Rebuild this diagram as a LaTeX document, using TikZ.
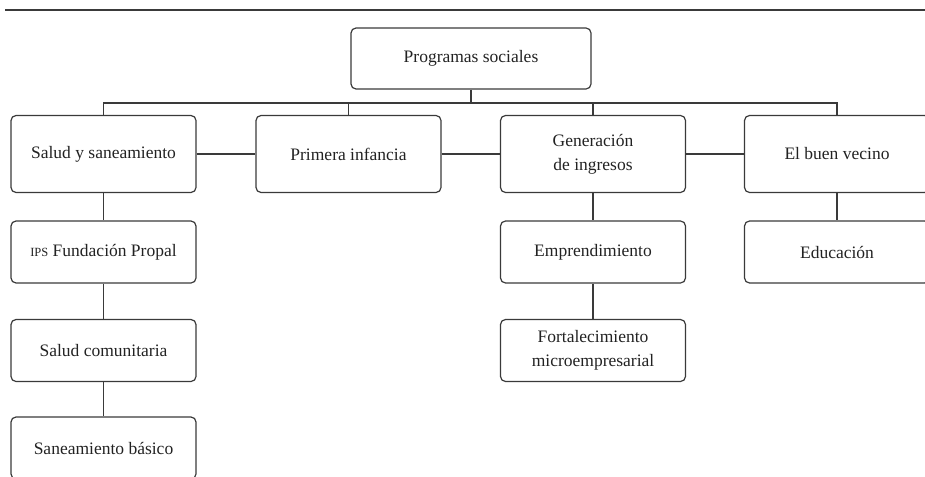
\documentclass[tikz,border=0pt]{standalone}
\usepackage{fontspec}
\setmainfont{Liberation Serif}
\definecolor{ln}{HTML}{3A3A3A}
\definecolor{tx}{HTML}{222222}
\begin{document}
\begin{tikzpicture}[x=1pt,y=-1pt,
  box/.style={draw=ln, line width=1.2pt, rounded corners=5pt, minimum width=185pt,
    minimum height=77pt, align=center, text=tx, inner sep=0pt,
    font=\fontsize{17.5}{24}\selectfont},
  sub/.style={box, minimum height=62pt},
  rootbox/.style={box, minimum width=240pt, minimum height=61pt},
  link/.style={draw=ln, line width=1.2pt}]
\useasboundingbox (0,0) rectangle (925,476);
\clip (0,0) rectangle (925,476);
\coordinate (tl) at (5,10);
\coordinate (tr) at (925,10);
\draw[link] (tl) -- (tr);
\node[rootbox] (root) at (471,58.5) {Programas sociales};
\node[box] (salud) at (103.5,154) {Salud y saneamiento};
\node[box] (prim) at (348.5,154) {Primera infancia};
\node[box] (gen) at (593,154) {Generación\\de ingresos};
\node[box] (buen) at (837,154) {El buen vecino};
\node[sub] (ips) at (103.5,252) {{\fontsize{12.5}{14}\selectfont IPS} Fundación Propal};
\node[sub] (com) at (103.5,350.5) {Salud comunitaria};
\node[sub] (san) at (103.5,448) {Saneamiento básico};
\node[sub] (empr) at (593,252) {Emprendimiento};
\node[sub] (fort) at (593,350.5) {Fortalecimiento\\microempresarial};
\node[sub] (edu) at (837,252) {Educación};
\coordinate (bus) at (471,103);
\draw[link] (root.south) -- (bus);
\draw[link] (salud.north) |- (bus) -| (buen.north);
\draw[link] (prim.north) -- (prim.north |- bus);
\draw[link] (gen.north) -- (gen.north |- bus);
\draw[link] (salud.east) -- (prim.west);
\draw[link] (prim.east) -- (gen.west);
\draw[link] (gen.east) -- (buen.west);
\draw[link] (salud.south) -- (ips.north);
\draw[link] (ips.south) -- (com.north);
\draw[link] (com.south) -- (san.north);
\draw[link] (gen.south) -- (empr.north);
\draw[link] (empr.south) -- (fort.north);
\draw[link] (buen.south) -- (edu.north);
\end{tikzpicture}
\end{document}
